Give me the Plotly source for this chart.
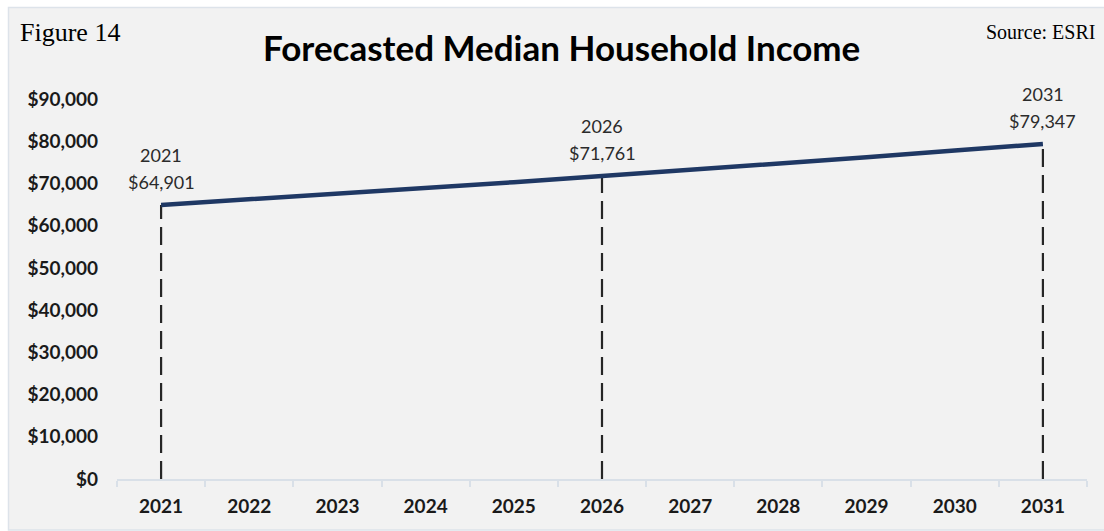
import plotly.graph_objects as go

# Forecast series
years = ["2021", "2022", "2023", "2024", "2025", "2026", "2027", "2028", "2029", "2030", "2031"]
income = [64901, 66200, 67500, 68900, 70300, 71761, 73200, 74700, 76200, 77800, 79347]

# Years called out with a drop line and a label
labeled_years = ["2021", "2026", "2031"]
labeled_income = [64901, 71761, 79347]

y_ticks = [0, 10000, 20000, 30000, 40000, 50000, 60000, 70000, 80000, 90000]
y_tick_text = ["$0", "$10,000", "$20,000", "$30,000", "$40,000", "$50,000",
               "$60,000", "$70,000", "$80,000", "$90,000"]

W, H = 1104, 531
ML, MR, MT, MB = 117, 17, 99, 52
pw, ph = W - ML - MR, H - MT - MB


def px_to_paper_x(px):
    return (px - ML) / pw


def px_to_paper_y(py):
    return (H - MB - py) / ph


fig = go.Figure()

# Dashed drop lines from each labelled point down to the axis
for yr, val in zip(labeled_years, labeled_income):
    fig.add_trace(go.Scatter(
        x=[yr, yr], y=[0, val], mode="lines",
        line=dict(color="#262626", width=2.2, dash="18px,8px"),
        hoverinfo="skip", showlegend=False,
    ))

fig.add_trace(go.Scatter(
    x=years, y=income, mode="lines",
    line=dict(color="#1f3864", width=4.5),
    showlegend=False,
))

annotations = []
for yr, val in zip(labeled_years, labeled_income):
    idx = years.index(yr)  # category axes place annotations by index
    annotations.append(dict(
        x=idx, y=val, xref="x", yref="y", text=f"${val:,}",
        showarrow=False, yanchor="middle", yshift=23,
        font=dict(family="Lato", size=18, color="#2b2b2b"),
    ))
    annotations.append(dict(
        x=idx, y=val, xref="x", yref="y", text=yr,
        showarrow=False, yanchor="middle", yshift=50,
        font=dict(family="Lato", size=18, color="#2b2b2b"),
    ))

annotations.append(dict(
    x=px_to_paper_x(561), y=px_to_paper_y(47), xref="paper", yref="paper",
    text="<b>Forecasted Median Household Income</b>", showarrow=False,
    xanchor="center", yanchor="middle",
    font=dict(family="Lato", size=35, color="#000000"),
))
annotations.append(dict(
    x=px_to_paper_x(18), y=px_to_paper_y(33), xref="paper", yref="paper",
    text="Figure 14", showarrow=False, xanchor="left", yanchor="middle",
    font=dict(family="Liberation Serif", size=26, color="#000000"),
))
annotations.append(dict(
    x=px_to_paper_x(1097), y=px_to_paper_y(32), xref="paper", yref="paper",
    text="Source: ESRI", showarrow=False, xanchor="right", yanchor="middle",
    font=dict(family="Liberation Serif", size=20, color="#000000"),
))

# Grey chart panel with a thin border
shapes = [dict(
    type="rect", xref="paper", yref="paper", layer="below",
    x0=px_to_paper_x(8.5), x1=px_to_paper_x(1110),
    y0=px_to_paper_y(530), y1=px_to_paper_y(7.5),
    fillcolor="#f2f2f2", line=dict(color="#dde3ea", width=1.5),
)]

fig.update_layout(
    width=W, height=H,
    margin=dict(l=ML, r=MR, t=MT, b=MB),
    paper_bgcolor="#ffffff", plot_bgcolor="rgba(0,0,0,0)",
    annotations=annotations, shapes=shapes,
    xaxis=dict(
        type="category", categoryorder="array", categoryarray=years,
        range=[-0.5, len(years) - 0.5], autorange=False,
        showgrid=False, zeroline=False,
        showline=True, linecolor="#d9e0e8", linewidth=1.5,
        ticks="outside", tickson="boundaries", ticklen=6, tickcolor="#d9e0e8",
        tickwidth=1.5, tickangle=0, ticklabelstandoff=9,
        tickfont=dict(family="Lato", size=19, color="#1a1a1a", weight="bold"),
        fixedrange=True,
    ),
    yaxis=dict(
        range=[0, 90000], autorange=False, tickvals=y_ticks, ticktext=y_tick_text,
        showgrid=False, zeroline=False, showline=False,
        ticks="", ticklabelstandoff=18,
        tickfont=dict(family="Lato", size=19, color="#1a1a1a", weight="bold"),
        fixedrange=True,
    ),
)

fig.write_html("out.html")
